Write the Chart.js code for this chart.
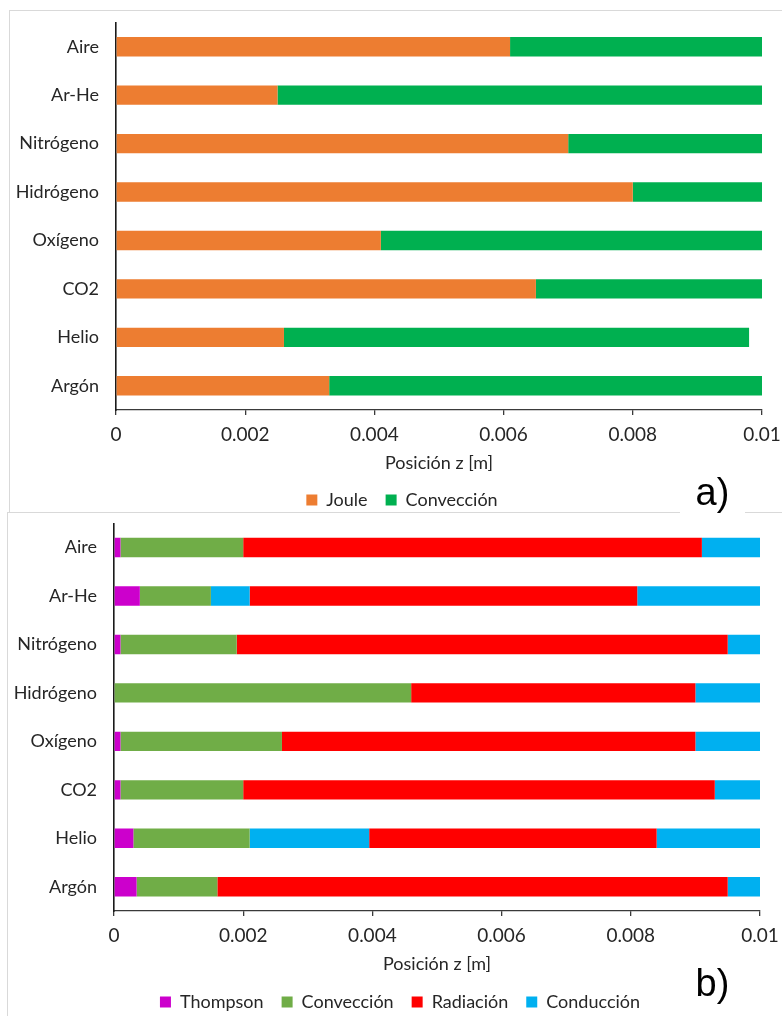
<!DOCTYPE html>
<html lang="es">
<head>
    <meta charset="UTF-8">
    <title>Mecanismos por gas</title>
    <script src="https://cdn.jsdelivr.net/npm/chart.js"></script>
    <style>
        html, body {
            margin: 0;
            padding: 0;
            background: #ffffff;
            width: 782px;
            height: 1016px;
            overflow: hidden;
            position: relative;
        }
        .marco {
            position: absolute;
            border: 1px solid #d9d9d9;
            box-sizing: border-box;
        }
        .grafico {
            position: absolute;
            left: 0;
        }
        .etiqueta {
            position: absolute;
            background: #ffffff;
            font-family: 'Liberation Sans', Arial, sans-serif;
            font-size: 38px;
            color: #000;
            text-align: center;
            line-height: 40px;
        }
    </style>
</head>
<body>

    <div class="marco" style="left:9px; top:10px; width:800px; height:503px;"></div>
    <div class="marco" style="left:7px; top:512px; width:800px; height:520px;"></div>

    <div class="grafico" style="top:10px; width:782px; height:510px;"><canvas id="graficoA"></canvas></div>
    <div class="grafico" style="top:512px; width:782px; height:509px;"><canvas id="graficoB"></canvas></div>

    <div class="etiqueta" style="left:680px; top:472px; width:65px; height:44px;">a)</div>
    <div class="etiqueta" style="left:680px; top:963px; width:65px; height:44px;">b)</div>

    <script>
        // Gases, de arriba hacia abajo
        const gases = ['Aire', 'Ar-He', 'Nitrógeno', 'Hidrógeno', 'Oxígeno', 'CO2', 'Helio', 'Argón'];

        // a) posición z [m] donde termina cada región
        const finJoule = [0.0061, 0.0025, 0.0070, 0.0080, 0.0041, 0.0065, 0.0026, 0.0033];
        const finConveccionA = [0.0100, 0.0100, 0.0100, 0.0100, 0.0100, 0.0100, 0.0098, 0.0100];

        // b) posición z [m] donde termina cada región
        const finThompson = [0.0001, 0.0004, 0.0001, 0.0000, 0.0001, 0.0001, 0.0003, 0.00035];
        const finConveccionB = [0.0020, 0.0015, 0.0019, 0.0046, 0.0026, 0.0020, 0.0021, 0.0016];
        const finConduccionIntermedia = [null, 0.0021, null, null, null, null, 0.00395, null];
        const finRadiacion = [0.0091, 0.0081, 0.0095, 0.0090, 0.0090, 0.0093, 0.0084, 0.0095];
        const finConduccion = [0.0100, 0.0100, 0.0100, 0.0100, 0.0100, 0.0100, 0.0100, 0.0100];

        const ticksX = [0, 0.002, 0.004, 0.006, 0.008, 0.01];

        const colores = {
            joule: '#ED7D31',
            conveccionA: '#00B050',
            thompson: '#CC00CC',
            conveccionB: '#70AD47',
            radiacion: '#FF0000',
            conduccion: '#00B0F0'
        };

        const fuente = "Lato, 'Open Sans', sans-serif";
        const colorTexto = '#262626';
        const colorEje = '#3a3a3a';

        // la leyenda va centrada en el marco y a una distancia fija del eje x
        const moverLeyenda = {
            id: 'moverLeyenda',
            afterLayout(chart, args, opciones) {
                const ley = chart.legend;
                const dx = opciones.dx || 0;
                ley.left += dx;
                ley.right += dx;
                const alto = ley.bottom - ley.top;
                ley.top = chart.chartArea.bottom + opciones.dy;
                ley.bottom = ley.top + alto;
            }
        };

        // tramo [inicio, fin] para cada gas
        function tramos(inicios, fines) {
            return fines.map((fin, i) => fin === null ? null : [inicios[i], fin]);
        }

        function opcionesComunes(margenSup, anchoEjeY) {
            return {
                indexAxis: 'y',
                responsive: true,
                maintainAspectRatio: false,
                animation: false,
                layout: { padding: { left: 0, right: 136 - anchoEjeY, top: margenSup, bottom: 0 } },
                datasets: {
                    bar: {
                        grouped: false,
                        categoryPercentage: 1,
                        barPercentage: 0.4,
                        borderWidth: 0
                    }
                },
                scales: {
                    x: {
                        type: 'linear',
                        min: 0,
                        max: 0.01,
                        afterBuildTicks: (eje) => { eje.ticks = ticksX.map(v => ({ value: v })); },
                        afterFit: (eje) => {
                            eje.height = 64;
                            eje.paddingLeft = 0;
                            eje.paddingRight = 0;
                        },
                        ticks: {
                            color: colorTexto,
                            font: { family: fuente, size: 19 },
                            padding: 8,
                            maxRotation: 0,
                            callback: (v) => String(+Number(v).toFixed(4))
                        },
                        grid: {
                            drawOnChartArea: false,
                            drawTicks: true,
                            tickLength: 5,
                            color: colorEje,
                            lineWidth: 1.3
                        },
                        border: { display: true, color: colorEje, width: 1.3 },
                        title: {
                            display: true,
                            text: 'Posición z [m]',
                            color: colorTexto,
                            font: { family: fuente, size: 18 },
                            padding: { top: 0, bottom: 0 }
                        }
                    },
                    y: {
                        type: 'category',
                        afterFit: (eje) => {
                            eje.width = anchoEjeY;
                            eje.paddingTop = 0;
                            eje.paddingBottom = 0;
                        },
                        ticks: {
                            color: colorTexto,
                            font: { family: fuente, size: 18 },
                            padding: 17
                        },
                        grid: { display: false, drawTicks: false },
                        border: { display: true, color: '#1a1a1a', width: 1.6 }
                    }
                },
                plugins: {
                    tooltip: { enabled: false },
                    moverLeyenda: { dx: 21, dy: 63 },
                    legend: {
                        position: 'bottom',
                        labels: {
                            color: colorTexto,
                            font: { family: fuente, size: 18 },
                            boxWidth: 11,
                            boxHeight: 11,
                            padding: 18,
                            filter: (item, datos) => !datos.datasets[item.datasetIndex].ocultarLeyenda
                        }
                    }
                }
            };
        }

        new Chart(document.getElementById('graficoA'), {
            type: 'bar',
            data: {
                labels: gases,
                datasets: [
                    {
                        label: 'Joule',
                        data: tramos(gases.map(() => 0), finJoule),
                        backgroundColor: colores.joule
                    },
                    {
                        label: 'Convección',
                        data: tramos(finJoule, finConveccionA),
                        backgroundColor: colores.conveccionA
                    }
                ]
            },
            options: opcionesComunes(12.5, 116),
            plugins: [moverLeyenda]
        });

        // la radiación empieza tras la conducción intermedia si existe
        const inicioRadiacion = finConveccionB.map((v, i) => finConduccionIntermedia[i] !== null ? finConduccionIntermedia[i] : v);

        const opcionesB = opcionesComunes(11.3, 114);
        opcionesB.plugins.moverLeyenda.dx = 20;
        opcionesB.plugins.moverLeyenda.dy = 64;

        new Chart(document.getElementById('graficoB'), {
            type: 'bar',
            data: {
                labels: gases,
                datasets: [
                    {
                        label: 'Thompson',
                        data: tramos(gases.map(() => 0), finThompson),
                        backgroundColor: colores.thompson
                    },
                    {
                        label: 'Convección',
                        data: tramos(finThompson, finConveccionB),
                        backgroundColor: colores.conveccionB
                    },
                    {
                        label: 'Conducción',
                        data: tramos(finConveccionB, finConduccionIntermedia),
                        backgroundColor: colores.conduccion,
                        ocultarLeyenda: true
                    },
                    {
                        label: 'Radiación',
                        data: tramos(inicioRadiacion, finRadiacion),
                        backgroundColor: colores.radiacion
                    },
                    {
                        label: 'Conducción',
                        data: tramos(finRadiacion, finConduccion),
                        backgroundColor: colores.conduccion
                    }
                ]
            },
            options: opcionesB,
            plugins: [moverLeyenda]
        });
    </script>

</body>
</html>
